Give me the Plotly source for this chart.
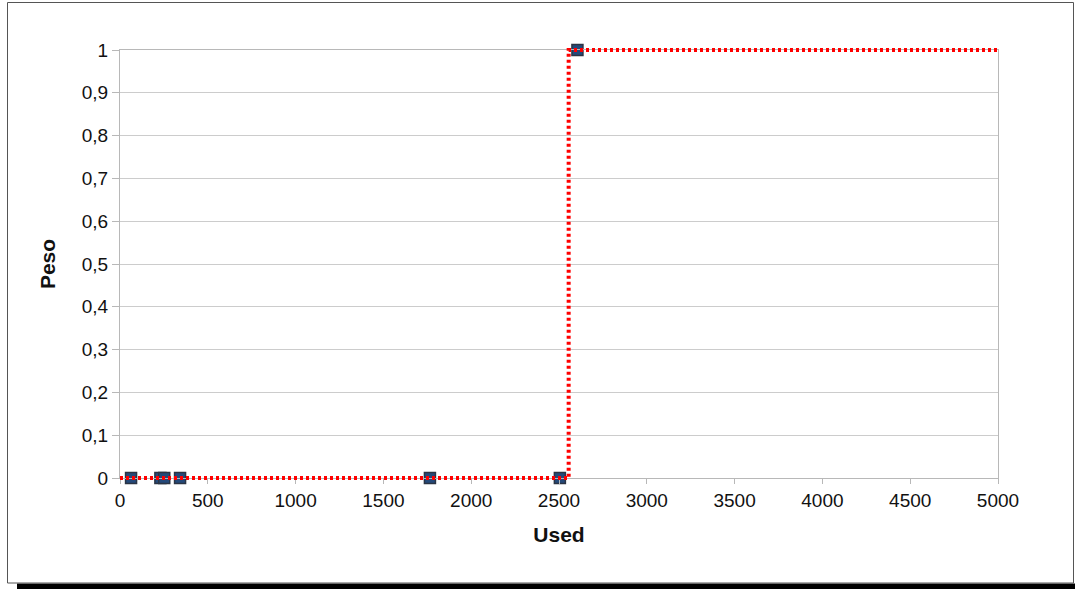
import plotly.graph_objects as go

# Data
used = [63, 230, 252, 342, 1765, 2505, 2605]
peso = [0, 0, 0, 0, 0, 0, 1]
step_x = [0, 2555, 5000]
step_y = [0, 1, 1]

x_ticks = [0, 500, 1000, 1500, 2000, 2500, 3000, 3500, 4000, 4500, 5000]
x_ticktext = ["0", "500", "1000", "1500", "2000", "2500", "3000", "3500", "4000", "4500", "5000"]
y_ticks = [0, 0.1, 0.2, 0.3, 0.4, 0.5, 0.6, 0.7, 0.8, 0.9, 1]
y_ticktext = ["0", "0,1", "0,2", "0,3", "0,4", "0,5", "0,6", "0,7", "0,8", "0,9", "1"]

W, H = 1075, 589
EXT = 5  # extra px around plot area so the thick step line is not clipped
L, R, T, B = 120, 77, 50 - EXT, 111 - EXT
pw, ph = W - L - R, H - T - B
d = EXT / ph
e = EXT / (ph - 2 * EXT)

def px(x):
    return (x - L) / pw

def py(y):
    return (H - B - y) / ph

fig = go.Figure()
fig.add_trace(go.Scatter(
    x=used, y=peso, mode="markers",
    marker=dict(symbol="square", size=11, color="#24497a",
                line=dict(color="#2b3444", width=1.5)),
    cliponaxis=False, showlegend=False, hoverinfo="skip",
))
fig.add_trace(go.Scatter(
    x=step_x, y=step_y, mode="lines", line_shape="hv",
    xaxis="x2", yaxis="y2",
    line=dict(color="#ff0000", width=4, dash="3px,3px"),
    showlegend=False, hoverinfo="skip",
))

font = "Liberation Sans, Arial, sans-serif"
fig.update_layout(
    width=W, height=H,
    margin=dict(l=L, r=R, t=T, b=B),
    paper_bgcolor="white", plot_bgcolor="rgba(0,0,0,0)",
    hovermode=False,
    font=dict(family=font, size=19, color="#111111"),
    xaxis=dict(
        domain=[0, 1], anchor="y",
        range=[0, 5000], tickvals=x_ticks, ticktext=x_ticktext,
        showgrid=False, zeroline=False,
        showline=True, linecolor="#b8b8b8", linewidth=1, mirror=True,
        ticks="outside", ticklen=5, tickcolor="#b8b8b8",
        title=dict(text="<b>Used</b>", font=dict(size=21, family=font), standoff=17),
    ),
    yaxis=dict(
        domain=[d, 1 - d], anchor="x",
        range=[0, 1], tickvals=y_ticks, ticktext=y_ticktext,
        showgrid=True, gridcolor="#cccccc", gridwidth=1, zeroline=False,
        showline=True, linecolor="#b8b8b8", linewidth=1, mirror=True,
        ticks="outside", ticklen=7, tickcolor="#b8b8b8",
        title=dict(text="<b>Peso</b>", font=dict(size=21, family=font), standoff=20),
    ),
    xaxis2=dict(domain=[0, 1], anchor="y2", range=[0, 5000], visible=False),
    yaxis2=dict(domain=[0, 1], anchor="x2", range=[-e, 1 + e], visible=False),
    shapes=[
        dict(type="rect", xref="paper", yref="paper",
             x0=px(17), x1=px(1076), y0=py(590), y1=py(583.5),
             fillcolor="black", line=dict(width=0), layer="above"),
        dict(type="rect", xref="paper", yref="paper",
             x0=px(7.5), x1=px(1073.5), y0=py(583), y1=py(2.5),
             fillcolor="rgba(0,0,0,0)", line=dict(color="#555555", width=1), layer="above"),
    ],
)

fig.write_html("out.html",
               config={"displayModeBar": False},
               post_script="document.body.style.margin='0';document.body.style.overflow='hidden';")
